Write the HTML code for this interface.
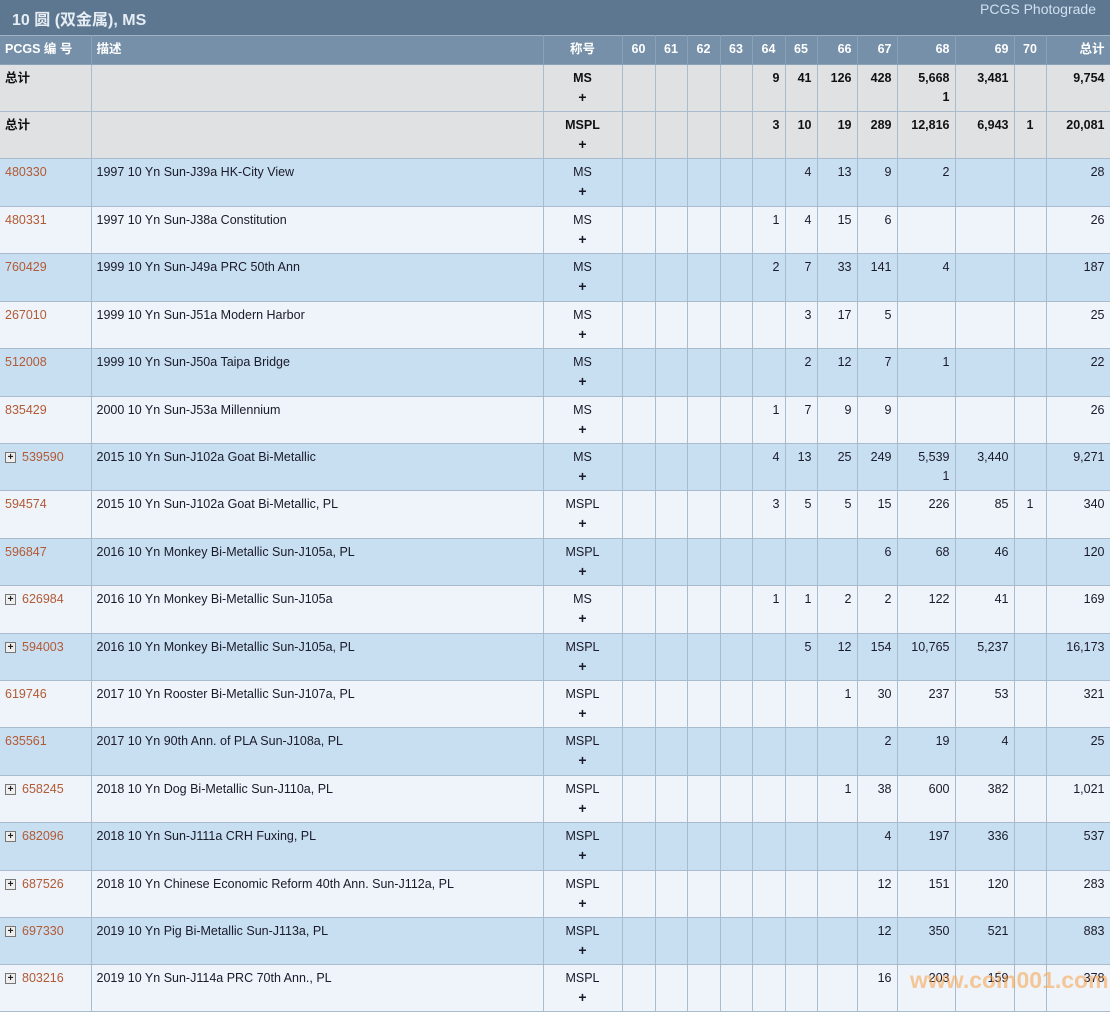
<!DOCTYPE html>
<html><head><meta charset="utf-8"><style>
body{margin:0;width:1110px;height:1010px;overflow:hidden;background:#eef4fa;font-family:"Liberation Sans","Noto Sans CJK SC",sans-serif;font-size:12.5px;color:#1a1a2a;position:relative}
.title{height:35px;background:#5d7790;color:#e8eef4;position:relative}
.title b{position:absolute;left:12px;top:6px;font-size:16px;color:#e6edf4}
.title span{position:absolute;right:14px;top:1px;font-size:14px;color:#cfe0f0}
table{border-collapse:collapse;table-layout:fixed;width:1110px;position:absolute;top:35px;left:0;border-left:hidden}
td,th{border:1px solid #a9bccd;padding:4px 5px 0 5px;vertical-align:top;text-align:right;line-height:19px;overflow:hidden;white-space:nowrap}
th{background:#7590a8;color:#fff;font-weight:bold;height:24px;padding-top:4px;border-color:#8aa2b7;border-top:1px solid #a0b4c6}
th.l{text-align:left}
td.c{text-align:center}
td.c b{font-size:14px}
td.l{text-align:left}
tr.t td{background:#e0e1e3;font-weight:bold;color:#111}
tr.b td{background:#c8dff2}
tr.w td{background:#eef4fa}
a{color:#b25a34;text-decoration:none}
.pl{display:inline-block;width:9px;height:9px;border:1px solid #777;background:#eee;font-size:10px;line-height:9px;text-align:center;margin-right:6px;vertical-align:1px;color:#222;font-weight:bold}
.wm{position:absolute;left:910px;top:967px;font-size:23px;font-weight:bold;color:rgba(250,160,70,0.55)}
</style></head><body>
<div class="title"><b>10 圆 (双金属), MS</b><span>PCGS Photograde</span></div>
<table>
<colgroup><col style="width:91px"><col style="width:452px"><col style="width:79px"><col style="width:33px"><col style="width:32px"><col style="width:33px"><col style="width:32px"><col style="width:33px"><col style="width:32px"><col style="width:40px"><col style="width:40px"><col style="width:58px"><col style="width:59px"><col style="width:32px"><col style="width:64px"></colgroup>
<tr><th class="l">PCGS 编 号</th><th class="l">描述</th><th style="text-align:center">称号</th><th style="text-align:center">60</th><th style="text-align:center">61</th><th style="text-align:center">62</th><th style="text-align:center">63</th><th style="text-align:center">64</th><th style="text-align:center">65</th><th>66</th><th>67</th><th>68</th><th>69</th><th style="text-align:center">70</th><th>总计</th></tr>
<tr class="t" style="height:47px"><td class="l">总计</td><td></td><td class="c">MS<br><b>+</b></td><td></td><td></td><td></td><td></td><td>9</td><td>41</td><td>126</td><td>428</td><td>5,668<br>1</td><td>3,481</td><td></td><td>9,754</td></tr>
<tr class="t" style="height:47px"><td class="l">总计</td><td></td><td class="c">MSPL<br><b>+</b></td><td></td><td></td><td></td><td></td><td>3</td><td>10</td><td>19</td><td>289</td><td>12,816</td><td>6,943</td><td class="c">1</td><td>20,081</td></tr>
<tr class="b" style="height:48px"><td class="l"><a>480330</a></td><td class="l">1997 10 Yn Sun-J39a HK-City View</td><td class="c">MS<br><b>+</b></td><td></td><td></td><td></td><td></td><td></td><td>4</td><td>13</td><td>9</td><td>2</td><td></td><td></td><td>28</td></tr>
<tr class="w" style="height:47px"><td class="l"><a>480331</a></td><td class="l">1997 10 Yn Sun-J38a Constitution</td><td class="c">MS<br><b>+</b></td><td></td><td></td><td></td><td></td><td>1</td><td>4</td><td>15</td><td>6</td><td></td><td></td><td></td><td>26</td></tr>
<tr class="b" style="height:48px"><td class="l"><a>760429</a></td><td class="l">1999 10 Yn Sun-J49a PRC 50th Ann</td><td class="c">MS<br><b>+</b></td><td></td><td></td><td></td><td></td><td>2</td><td>7</td><td>33</td><td>141</td><td>4</td><td></td><td></td><td>187</td></tr>
<tr class="w" style="height:47px"><td class="l"><a>267010</a></td><td class="l">1999 10 Yn Sun-J51a Modern Harbor</td><td class="c">MS<br><b>+</b></td><td></td><td></td><td></td><td></td><td></td><td>3</td><td>17</td><td>5</td><td></td><td></td><td></td><td>25</td></tr>
<tr class="b" style="height:48px"><td class="l"><a>512008</a></td><td class="l">1999 10 Yn Sun-J50a Taipa Bridge</td><td class="c">MS<br><b>+</b></td><td></td><td></td><td></td><td></td><td></td><td>2</td><td>12</td><td>7</td><td>1</td><td></td><td></td><td>22</td></tr>
<tr class="w" style="height:47px"><td class="l"><a>835429</a></td><td class="l">2000 10 Yn Sun-J53a Millennium</td><td class="c">MS<br><b>+</b></td><td></td><td></td><td></td><td></td><td>1</td><td>7</td><td>9</td><td>9</td><td></td><td></td><td></td><td>26</td></tr>
<tr class="b" style="height:47px"><td class="l"><span class="pl">+</span><a>539590</a></td><td class="l">2015 10 Yn Sun-J102a Goat Bi-Metallic</td><td class="c">MS<br><b>+</b></td><td></td><td></td><td></td><td></td><td>4</td><td>13</td><td>25</td><td>249</td><td>5,539<br>1</td><td>3,440</td><td></td><td>9,271</td></tr>
<tr class="w" style="height:48px"><td class="l"><a>594574</a></td><td class="l">2015 10 Yn Sun-J102a Goat Bi-Metallic, PL</td><td class="c">MSPL<br><b>+</b></td><td></td><td></td><td></td><td></td><td>3</td><td>5</td><td>5</td><td>15</td><td>226</td><td>85</td><td class="c">1</td><td>340</td></tr>
<tr class="b" style="height:47px"><td class="l"><a>596847</a></td><td class="l">2016 10 Yn Monkey Bi-Metallic Sun-J105a, PL</td><td class="c">MSPL<br><b>+</b></td><td></td><td></td><td></td><td></td><td></td><td></td><td></td><td>6</td><td>68</td><td>46</td><td></td><td>120</td></tr>
<tr class="w" style="height:48px"><td class="l"><span class="pl">+</span><a>626984</a></td><td class="l">2016 10 Yn Monkey Bi-Metallic Sun-J105a</td><td class="c">MS<br><b>+</b></td><td></td><td></td><td></td><td></td><td>1</td><td>1</td><td>2</td><td>2</td><td>122</td><td>41</td><td></td><td>169</td></tr>
<tr class="b" style="height:47px"><td class="l"><span class="pl">+</span><a>594003</a></td><td class="l">2016 10 Yn Monkey Bi-Metallic Sun-J105a, PL</td><td class="c">MSPL<br><b>+</b></td><td></td><td></td><td></td><td></td><td></td><td>5</td><td>12</td><td>154</td><td>10,765</td><td>5,237</td><td></td><td>16,173</td></tr>
<tr class="w" style="height:47px"><td class="l"><a>619746</a></td><td class="l">2017 10 Yn Rooster Bi-Metallic Sun-J107a, PL</td><td class="c">MSPL<br><b>+</b></td><td></td><td></td><td></td><td></td><td></td><td></td><td>1</td><td>30</td><td>237</td><td>53</td><td></td><td>321</td></tr>
<tr class="b" style="height:48px"><td class="l"><a>635561</a></td><td class="l">2017 10 Yn 90th Ann. of PLA Sun-J108a, PL</td><td class="c">MSPL<br><b>+</b></td><td></td><td></td><td></td><td></td><td></td><td></td><td></td><td>2</td><td>19</td><td>4</td><td></td><td>25</td></tr>
<tr class="w" style="height:47px"><td class="l"><span class="pl">+</span><a>658245</a></td><td class="l">2018 10 Yn Dog Bi-Metallic Sun-J110a, PL</td><td class="c">MSPL<br><b>+</b></td><td></td><td></td><td></td><td></td><td></td><td></td><td>1</td><td>38</td><td>600</td><td>382</td><td></td><td>1,021</td></tr>
<tr class="b" style="height:48px"><td class="l"><span class="pl">+</span><a>682096</a></td><td class="l">2018 10 Yn Sun-J111a CRH Fuxing, PL</td><td class="c">MSPL<br><b>+</b></td><td></td><td></td><td></td><td></td><td></td><td></td><td></td><td>4</td><td>197</td><td>336</td><td></td><td>537</td></tr>
<tr class="w" style="height:47px"><td class="l"><span class="pl">+</span><a>687526</a></td><td class="l">2018 10 Yn Chinese Economic Reform 40th Ann. Sun-J112a, PL</td><td class="c">MSPL<br><b>+</b></td><td></td><td></td><td></td><td></td><td></td><td></td><td></td><td>12</td><td>151</td><td>120</td><td></td><td>283</td></tr>
<tr class="b" style="height:47px"><td class="l"><span class="pl">+</span><a>697330</a></td><td class="l">2019 10 Yn Pig Bi-Metallic Sun-J113a, PL</td><td class="c">MSPL<br><b>+</b></td><td></td><td></td><td></td><td></td><td></td><td></td><td></td><td>12</td><td>350</td><td>521</td><td></td><td>883</td></tr>
<tr class="w" style="height:47px"><td class="l"><span class="pl">+</span><a>803216</a></td><td class="l">2019 10 Yn Sun-J114a PRC 70th Ann., PL</td><td class="c">MSPL<br><b>+</b></td><td></td><td></td><td></td><td></td><td></td><td></td><td></td><td>16</td><td>203</td><td>159</td><td></td><td>378</td></tr>
</table>
<div class="wm">www.coin001.com</div>
</body></html>
